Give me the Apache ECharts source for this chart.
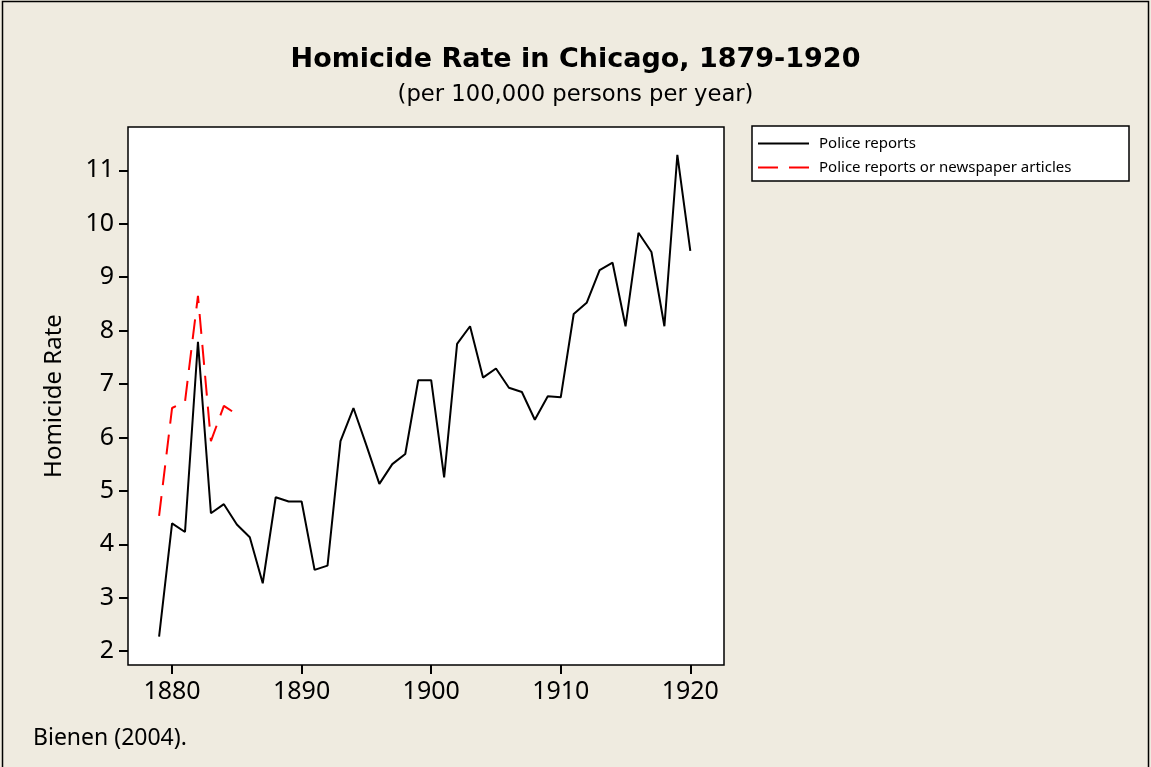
<!DOCTYPE html>
<html>
<head>
<meta charset="utf-8">
<title>Homicide Rate in Chicago, 1879-1920</title>
<script src="https://cdn.jsdelivr.net/npm/echarts@6/dist/echarts.min.js"></script>
<style>
  html, body { margin: 0; padding: 0; background: #efebe0; }
  #chart { width: 1151px; height: 767px; }
</style>
</head>
<body>
<div id="chart"></div>
<script>
// 数据：警方报告（1879-1920）
const policeYears = [1879, 1880, 1881, 1882, 1883, 1884, 1885, 1886, 1887, 1888, 1889, 1890,
  1891, 1892, 1893, 1894, 1895, 1896, 1897, 1898, 1899, 1900, 1901, 1902, 1903, 1904, 1905,
  1906, 1907, 1908, 1909, 1910, 1911, 1912, 1913, 1914, 1915, 1916, 1917, 1918, 1919, 1920];
const policeRates = [2.27, 4.39, 4.23, 7.79, 4.58, 4.75, 4.37, 4.13, 3.27, 4.88, 4.80, 4.80,
  3.52, 3.60, 5.93, 6.55, 5.85, 5.13, 5.50, 5.69, 7.07, 7.07, 5.25, 7.75, 8.08, 7.12, 7.29,
  6.93, 6.85, 6.33, 6.77, 6.75, 8.31, 8.52, 9.13, 9.27, 8.08, 9.83, 9.47, 8.08, 11.29, 9.49];

// 警方报告或报纸文章（1879-1885）
const newsYears = [1879, 1880, 1881, 1882, 1883, 1884, 1885];
const newsRates = [4.53, 6.55, 6.67, 8.65, 5.93, 6.59, 6.43];

// 刻度
const xTicks = [1880, 1890, 1900, 1910, 1920];
const yTicks = [2, 3, 4, 5, 6, 7, 8, 9, 10, 11];

const FONT = 'Noto Sans';
const WIDE = 'DejaVu Sans'; // 标题字距较宽
const pair = (xs, ys) => xs.map((x, i) => [x, ys[i]]);

const chart = echarts.init(document.getElementById('chart'), null, { renderer: 'canvas' });

chart.setOption({
  backgroundColor: '#efebe0',
  animation: false,
  textStyle: { fontFamily: FONT, color: '#000' },
  title: [
    {
      text: 'Homicide Rate in Chicago, 1879-1920',
      left: 'center',
      top: 41,
      textStyle: { fontFamily: WIDE, fontSize: 27, fontWeight: 'bold', color: '#000' }
    },
    {
      text: '(per 100,000 persons per year)',
      left: 'center',
      top: 79,
      textStyle: { fontFamily: WIDE, fontSize: 22.7, fontWeight: 'normal', color: '#000' }
    },
    {
      text: 'Bienen (2004).',
      left: 28,
      top: 722,
      textStyle: { fontFamily: FONT, fontSize: 23, fontWeight: 'normal', color: '#000' }
    }
  ],
  graphic: [
    // 外框
    {
      type: 'rect', z: 0,
      shape: { x: 2.5, y: 1.5, width: 1146, height: 775 },
      style: { fill: null, stroke: '#000', lineWidth: 1.5 }
    },
    // 图例框
    {
      type: 'rect', z: 0,
      shape: { x: 752, y: 126, width: 377, height: 55 },
      style: { fill: '#fff', stroke: '#000', lineWidth: 1.5 }
    }
  ],
  legend: {
    orient: 'vertical',
    left: 752,
    top: 136,
    padding: [0, 0, 0, 5],
    z: 5,
    itemWidth: 51,
    itemHeight: 14,
    itemGap: 9,
    itemStyle: { opacity: 0 },
    textStyle: { fontFamily: FONT, fontSize: 15, color: '#000', padding: [0, 0, 0, 5] },
    data: ['Police reports', 'Police reports or newspaper articles']
  },
  grid: {
    left: 128,
    top: 127,
    width: 596,
    height: 538,
    show: true,
    backgroundColor: '#fff',
    borderColor: '#000',
    borderWidth: 1.5
  },
  xAxis: {
    type: 'value',
    min: 1876.6,
    max: 1922.6,
    axisLine: { show: false },
    splitLine: { show: false },
    axisTick: {
      show: true, inside: false, length: 9, customValues: xTicks,
      lineStyle: { color: '#000', width: 2 }
    },
    axisLabel: {
      customValues: xTicks, margin: 14, fontSize: 25, color: '#000', fontFamily: FONT,
      formatter: v => String(v)
    }
  },
  yAxis: {
    type: 'value',
    min: 1.74,
    max: 11.81,
    name: 'Homicide Rate',
    nameLocation: 'middle',
    nameGap: 62,
    nameTextStyle: { fontFamily: FONT, fontSize: 24, color: '#000' },
    axisLine: { show: false },
    splitLine: { show: false },
    axisTick: {
      show: true, inside: false, length: 9, customValues: yTicks,
      lineStyle: { color: '#000', width: 2 }
    },
    axisLabel: {
      customValues: yTicks, margin: 14, fontSize: 25, color: '#000', fontFamily: FONT
    }
  },
  series: [
    {
      name: 'Police reports',
      type: 'line',
      symbol: 'none',
      data: pair(policeYears, policeRates),
      lineStyle: { color: '#000', width: 2 },
      itemStyle: { color: '#000' },
      z: 3
    },
    {
      name: 'Police reports or newspaper articles',
      type: 'line',
      symbol: 'none',
      data: pair(newsYears, newsRates),
      lineStyle: { color: '#ff0000', width: 2, type: [20, 11] },
      itemStyle: { color: '#ff0000' },
      z: 2
    }
  ]
});
</script>
</body>
</html>
